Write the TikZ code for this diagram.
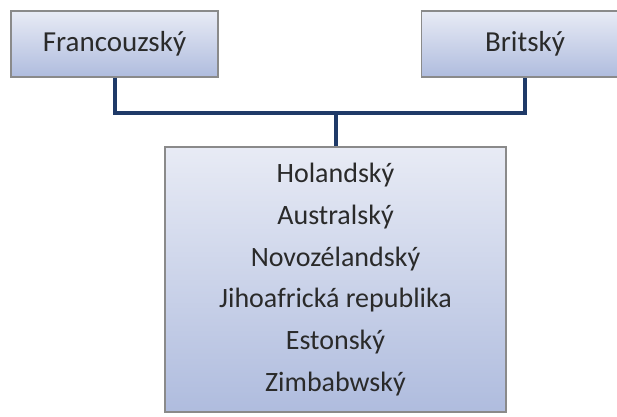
\documentclass[tikz,border=0pt]{standalone}
\usepackage{fontspec}
\setmainfont{Carlito}
\usetikzlibrary{positioning, calc}
\definecolor{linka}{HTML}{1F3A68}
\definecolor{ramecek}{HTML}{8A8A8A}
\definecolor{hornibarva}{HTML}{E8EBF5}
\definecolor{dolnibarva}{HTML}{AFBCDE}
\definecolor{pismo}{HTML}{2A2A2A}
\tikzset{
  zeme/.style={draw=ramecek, line width=1.2pt, top color=hornibarva, bottom color=dolnibarva,
    text=pismo, font=\fontsize{29}{29}\selectfont, inner sep=0pt},
  spojnice/.style={draw=linka, line width=4pt}
}

\begin{document}
\begin{tikzpicture}[x=1pt, y=-1pt]
    \useasboundingbox (0,0) rectangle (617,416);
    \clip (0,0) rectangle (617,416);

    % ---------------- TOP BOXES ---------------- %
    \node[zeme, minimum width=207pt, minimum height=66pt] (francouzsky) at (114.5,44) {Francouzský};
    \node[zeme, minimum width=207pt, minimum height=66pt] (britsky) at (525,44) {Britský};

    % ---------------- BOTTOM BOX ---------------- %
    \node[zeme, minimum width=341pt, minimum height=265pt, align=center,
          font=\fontsize{28}{41.8}\selectfont] (ostatni) at (335.5,279.5)
          {Holandský\\ Australský\\ Novozélandský\\ Jihoafrická republika\\ Estonský\\ Zimbabwský};

    % ---------------- CONNECTORS ---------------- %
    \coordinate (spoj) at (ostatni.north |- 0,113);
    \draw[spojnice] (francouzsky.south) |- (spoj) -| (britsky.south);
    \draw[spojnice] (spoj) -- (ostatni.north);
\end{tikzpicture}
\end{document}
